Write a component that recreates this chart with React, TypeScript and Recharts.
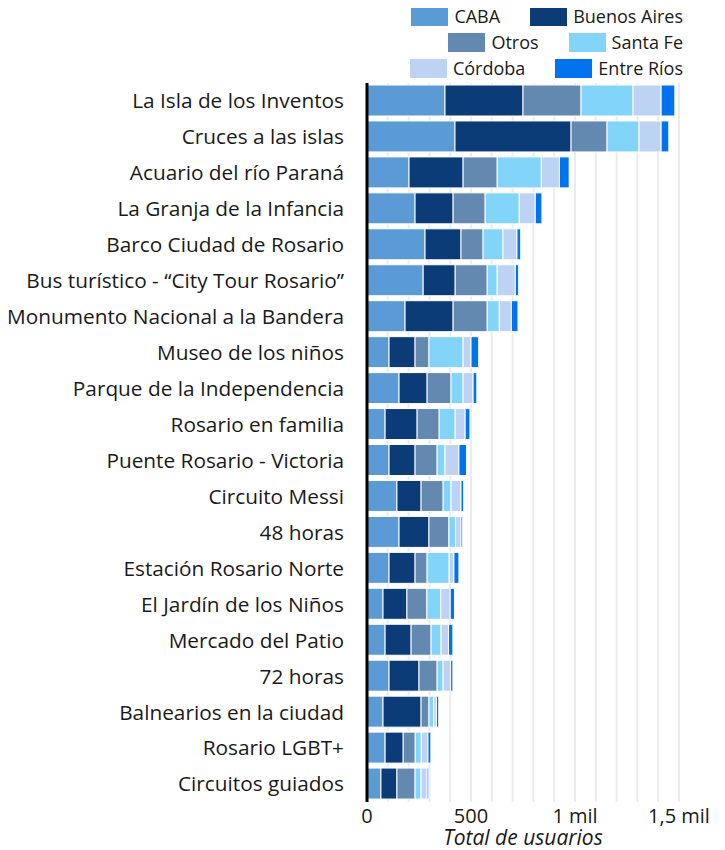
import React from "react";
import { BarChart, Bar, XAxis, YAxis, CartesianGrid, Label } from "recharts";

const categories = [
  "La Isla de los Inventos",
  "Cruces a las islas",
  "Acuario del río Paraná",
  "La Granja de la Infancia",
  "Barco Ciudad de Rosario",
  "Bus turístico - “City Tour Rosario”",
  "Monumento Nacional a la Bandera",
  "Museo de los niños",
  "Parque de la Independencia",
  "Rosario en familia",
  "Puente Rosario - Victoria",
  "Circuito Messi",
  "48 horas",
  "Estación Rosario Norte",
  "El Jardín de los Niños",
  "Mercado del Patio",
  "72 horas",
  "Balnearios en la ciudad",
  "Rosario LGBT+",
  "Circuitos guiados",
];

const caba = [375, 423, 202, 231, 279, 270, 183, 106, 154, 87, 106, 144, 154, 106, 77, 87, 106, 77, 87, 67];
const buenosAires = [375, 558, 260, 183, 173, 154, 231, 125, 135, 154, 125, 116, 144, 125, 115, 125, 144, 183, 87, 77];
const otros = [279, 173, 164, 154, 106, 154, 164, 67, 115, 106, 106, 106, 96, 58, 96, 96, 87, 38, 58, 87];
const santaFe = [250, 154, 212, 164, 96, 48, 58, 164, 58, 77, 38, 38, 32, 106, 67, 48, 29, 23, 29, 29];
const cordoba = [135, 106, 87, 77, 67, 87, 58, 38, 48, 48, 67, 48, 26, 23, 45, 36, 36, 13, 32, 29];
const entreRios = [66, 37, 47, 32, 18, 16, 32, 37, 18, 23, 37, 13, 8, 24, 21, 21, 11, 11, 14, 8];

const xTicks = [0, 100, 200, 300, 400, 500, 600, 700, 800, 900, 1000, 1100, 1200, 1300, 1400, 1500];
const xTickLabels: Record<number, string> = { 0: "0", 500: "500", 1000: "1 mil", 1500: "1,5 mil" };

const seriesKeys = ["caba", "buenosAires", "otros", "santaFe", "cordoba", "entreRios"];
const seriesNames = ["CABA", "Buenos Aires", "Otros", "Santa Fe", "Córdoba", "Entre Ríos"];
const seriesColors = ["#5b9bd5", "#0c3c78", "#6389b0", "#82d4f9", "#bed2f4", "#0073ee"];
const legendRows = [
  [0, 1],
  [2, 3],
  [4, 5],
];

const data = categories.map((name, i) => ({
  name,
  caba: caba[i],
  buenosAires: buenosAires[i],
  otros: otros[i],
  santaFe: santaFe[i],
  cordoba: cordoba[i],
  entreRios: entreRios[i],
}));

const FONT = "'Open Sans', 'Noto Sans', sans-serif";

function LegendBlock() {
  return (
    <div
      style={{
        position: "absolute",
        top: -5,
        left: 0,
        width: 675,
        fontFamily: FONT,
        fontSize: 18,
        color: "#1a1a1a",
      }}
    >
      {legendRows.map((row, ri) => (
        <div
          key={ri}
          style={{ display: "flex", justifyContent: "flex-end", alignItems: "center", height: 26 }}
        >
          {row.map((si, k) => (
            <div
              key={si}
              style={{ display: "flex", alignItems: "center", marginLeft: k === 0 ? 0 : 30 }}
            >
              <div style={{ width: 37, height: 19, background: seriesColors[si], marginRight: 6 }} />
              <span style={{ lineHeight: "26px", whiteSpace: "nowrap" }}>{seriesNames[si]}</span>
            </div>
          ))}
        </div>
      ))}
    </div>
  );
}

export default function App() {
  return (
    <div style={{ position: "relative", width: 709, height: 842 }}>
      <BarChart
        width={709}
        height={842}
        data={data}
        layout="vertical"
        margin={{ top: 75, right: 38, bottom: 0, left: 0 }}
        barSize={31}
      >
        <CartesianGrid horizontal={false} vertical={true} stroke="#ebebeb" strokeWidth={2} />
        <XAxis
          type="number"
          domain={[0, 1500]}
          ticks={xTicks}
          interval={0}
          tickFormatter={(v: number) => xTickLabels[v] ?? ""}
          axisLine={false}
          tickLine={false}
          tickSize={0}
          tickMargin={7}
          height={48}
          tick={{ fontSize: 20, fill: "#1a1a1a", fontFamily: FONT }}
        >
          <Label
            value="Total de usuarios"
            position="insideBottom"
            offset={5}
            style={{ fontSize: 21, fontStyle: "italic", fill: "#1a1a1a", fontFamily: FONT }}
          />
        </XAxis>
        <YAxis
          type="category"
          dataKey="name"
          width={359}
          interval={0}
          tickLine={false}
          tickSize={0}
          tickMargin={23}
          axisLine={{ stroke: "#000", strokeWidth: 3 }}
          tick={{ fontSize: 20.8, fill: "#1a1a1a", fontFamily: FONT }}
        />
        {seriesKeys.map((k, i) => (
          <Bar
            key={k}
            dataKey={k}
            name={seriesNames[i]}
            stackId="a"
            fill={seriesColors[i]}
            stroke="#ffffff"
            strokeWidth={1}
            isAnimationActive={false}
          />
        ))}
      </BarChart>
      <LegendBlock />
    </div>
  );
}
